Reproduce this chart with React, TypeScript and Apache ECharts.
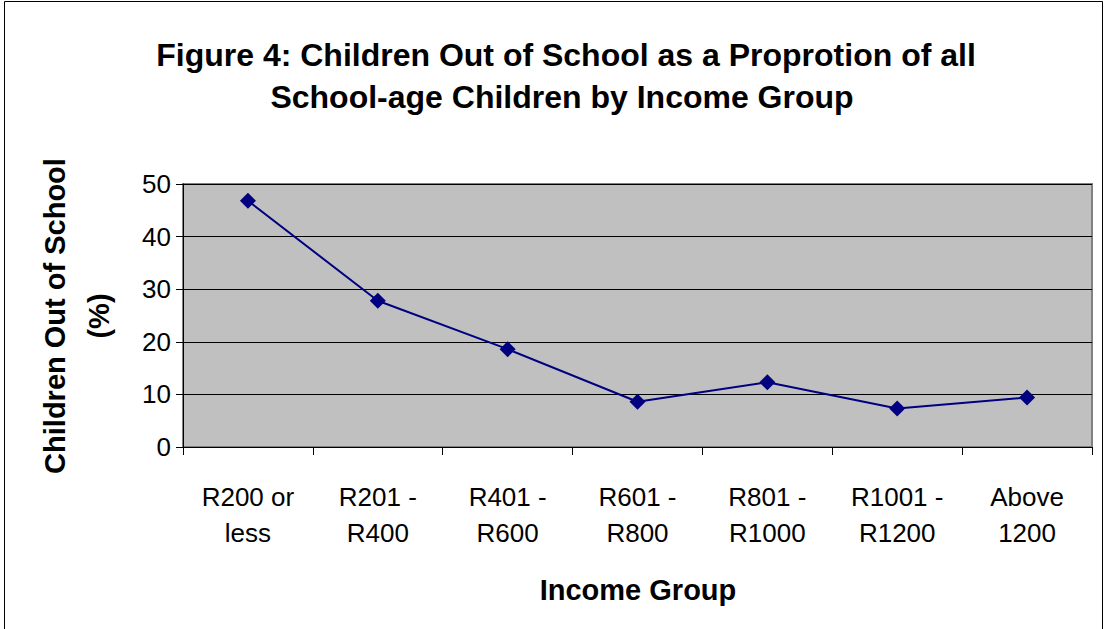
import React, { useEffect, useRef } from "react";
import * as echarts from "echarts";

const categories = [
  "R200 or\nless",
  "R201 -\nR400",
  "R401 -\nR600",
  "R601 -\nR800",
  "R801 -\nR1000",
  "R1001 -\nR1200",
  "Above\n1200",
];
const outOfSchool = [46.8, 27.8, 18.6, 8.6, 12.3, 7.3, 9.4];
const yTicks = { min: 0, max: 50, interval: 10 };
const titleLines = [
  "Figure 4: Children Out of School as a Proprotion of all",
  "School-age Children by Income Group",
];
const yAxisName = ["Children Out of School", "(%)"];
const xAxisName = "Income Group";

const FONT = "'Liberation Sans', Arial, sans-serif";

export default function App() {
  const ref = useRef<HTMLDivElement>(null);
  useEffect(() => {
    if (!ref.current) return;
    const chart = echarts.init(ref.current, null, { renderer: "svg" });
    chart.setOption({
      animation: false,
      backgroundColor: "#ffffff",
      textStyle: { fontFamily: FONT },
      grid: {
        left: 183,
        top: 184,
        width: 909,
        height: 263,
        show: true,
        backgroundColor: "#C0C0C0",
        borderColor: "#808080",
        borderWidth: 2,
        containLabel: false,
      },
      xAxis: {
        type: "category",
        data: categories,
        boundaryGap: true,
        axisLine: { show: true, lineStyle: { color: "#000000", width: 1 } },
        axisTick: { show: true, alignWithLabel: false, length: 8, lineStyle: { color: "#000" } },
        axisLabel: {
          interval: 0,
          color: "#000",
          fontFamily: FONT,
          fontSize: 26,
          lineHeight: 36,
          margin: 32,
        },
        splitLine: { show: false },
      },
      yAxis: {
        type: "value",
        min: yTicks.min,
        max: yTicks.max,
        interval: yTicks.interval,
        axisLine: { show: true, lineStyle: { color: "#000000", width: 1 } },
        axisTick: { show: true, length: 7, lineStyle: { color: "#000" } },
        axisLabel: { color: "#000", fontFamily: FONT, fontSize: 26, margin: 12 },
        splitLine: { show: true, lineStyle: { color: "#000", width: 1 } },
      },
      series: [
        {
          type: "line",
          data: outOfSchool,
          symbol: "diamond",
          symbolSize: 16,
          lineStyle: { color: "#000080", width: 2 },
          itemStyle: { color: "#000080" },
        },
      ],
      graphic: [
        {
          type: "rect",
          shape: { x: 4.5, y: 1.5, width: 1098, height: 700 },
          style: { fill: "none", stroke: "#000", lineWidth: 1 },
          silent: true,
        },
        {
          type: "text",
          x: 566,
          y: 55,
          style: {
            text: titleLines[0],
            font: `bold 32px ${FONT}`,
            fill: "#000",
            align: "center",
            verticalAlign: "middle",
          },
        },
        {
          type: "text",
          x: 562,
          y: 97,
          style: {
            text: titleLines[1],
            font: `bold 32px ${FONT}`,
            fill: "#000",
            align: "center",
            verticalAlign: "middle",
          },
        },
        {
          type: "text",
          x: 55,
          y: 316,
          rotation: Math.PI / 2,
          style: {
            text: yAxisName[0],
            font: `bold 29px ${FONT}`,
            fill: "#000",
            align: "center",
            verticalAlign: "middle",
          },
        },
        {
          type: "text",
          x: 99,
          y: 316,
          rotation: Math.PI / 2,
          style: {
            text: yAxisName[1],
            font: `bold 29px ${FONT}`,
            fill: "#000",
            align: "center",
            verticalAlign: "middle",
          },
        },
        {
          type: "text",
          x: 638,
          y: 590,
          style: {
            text: xAxisName,
            font: `bold 29px ${FONT}`,
            fill: "#000",
            align: "center",
            verticalAlign: "middle",
          },
        },
      ],
    });
    return () => chart.dispose();
  }, []);
  return (
    <div
      ref={ref}
      style={{ position: "fixed", left: 0, top: 0, width: 1107, height: 629 }}
    />
  );
}
